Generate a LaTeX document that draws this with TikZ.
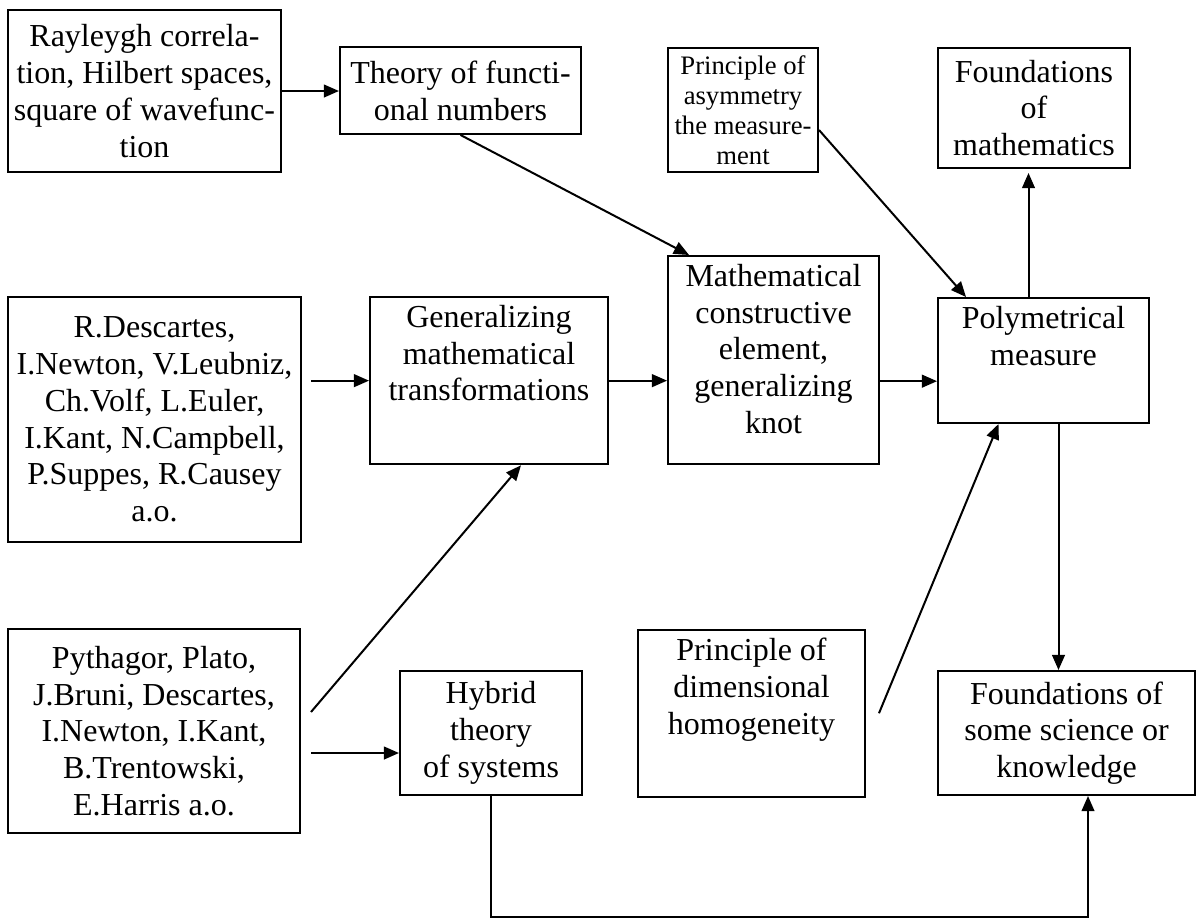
\documentclass[tikz,border=0pt]{standalone}
\usepackage{fontspec}
\setmainfont{Liberation Serif}
\usetikzlibrary{arrows.meta}

\newcommand{\padbelow}[1]{\rule[-#1]{0pt}{#1}}

\begin{document}
\begin{tikzpicture}[
    x=0.375pt, y=-0.375pt,
    every node/.style={font=\fontsize{12}{13.8}\selectfont},
    block/.style={draw, rectangle, align=center, line width=0.75pt, inner xsep=1pt, inner ysep=3pt},
    smallblock/.style={block, font=\fontsize{10}{11.3}\selectfont, inner ysep=1pt},
    arrow/.style={-{Triangle[length=5.7pt, width=4.8pt]}, line width=0.75pt}
]
\useasboundingbox (0,0) rectangle (1203,919);

\node[block, minimum width=102.4pt, minimum height=60.75pt] (ray) at (144.5,91) {Rayleygh correla-\\tion, Hilbert spaces,\\square of wavefunc-\\tion};
\node[block, minimum width=90.4pt, minimum height=32.6pt] (theory) at (460.5,90.5) {Theory of functi-\\onal numbers};
\node[smallblock, minimum width=56.25pt, minimum height=46.5pt] (asym) at (743,110) {Principle of\\asymmetry\\the measure-\\ment};
\node[block, minimum width=72pt, minimum height=45pt] (fmath) at (1034,108) {Foundations\\of\\mathematics};

\node[block, minimum width=109.9pt, minimum height=91.9pt] (desc) at (154.5,419.5) {R.Descartes,\\I.Newton, V.Leubniz,\\Ch.Volf, L.Euler,\\I.Kant, N.Campbell,\\P.Suppes, R.Causey\\a.o.};
\node[block, anchor=north, minimum width=89.25pt] (gen) at (489,296) {Generalizing\\mathematical\\transformations\padbelow{20.8pt}};
\node[block, anchor=north, minimum width=79.1pt] (mce) at (773.5,255) {Mathematical\\constructive\\element,\\generalizing\\knot\padbelow{8.6pt}};
\node[block, anchor=north, minimum width=79.1pt] (poly) at (1043.5,297) {Polymetrical\\measure\padbelow{18.75pt}};

\node[block, minimum width=109.5pt, minimum height=76.5pt] (pyth) at (154,731) {Pythagor, Plato,\\J.Bruni, Descartes,\\I.Newton, I.Kant,\\B.Trentowski,\\E.Harris a.o.};
\node[block, minimum width=68.25pt, minimum height=46.5pt] (hybrid) at (491,733) {Hybrid\\theory\\of systems};
\node[block, anchor=north, minimum width=85.1pt] (dim) at (751.5,629) {Principle of\\dimensional\\homogeneity\padbelow{20.4pt}};
\node[block, minimum width=96.4pt, minimum height=46.5pt] (fsci) at (1066.5,733) {Foundations of\\some science or\\knowledge};

% top row
\draw[arrow] (ray.east) -- (ray.east -| theory.west);
\draw[arrow] (theory.south) -- ([shift={(22,0)}]mce.north west);
\draw[arrow] ([shift={(0,20)}]asym.east) -- ([shift={(29,0)}]poly.north west);
\draw[arrow, shorten >=1.5pt] ([shift={(-15,0)}]poly.north) -- ([shift={(-15,0)}]poly.north |- fmath.south);

% middle row
\draw[arrow, shorten <=3.4pt] (gen.west -| desc.east) -- (gen.west);
\draw[arrow] (gen.east) -- (gen.east -| mce.west);
\draw[arrow] ([shift={(0,21)}]mce.east) -- ([shift={(0,21)}]mce.east -| poly.west);
\draw[arrow] ([shift={(15,0)}]poly.south) -- ([shift={(15,0)}]poly.south |- fsci.north);

% bottom row
\draw[arrow] ([shift={(10,-19)}]pyth.east) -- ([shift={(32,0)}]gen.south);
\draw[arrow] ([shift={(10,22)}]pyth.east) -- ([shift={(0,22)}]pyth.east -| hybrid.west);
\draw[arrow] ([shift={(13,0)}]dim.east) -- ([shift={(-45,0)}]poly.south);
\draw[arrow] (hybrid.south) -- ++(0,121) -| ([shift={(21.5,0)}]fsci.south);

\end{tikzpicture}
\end{document}
